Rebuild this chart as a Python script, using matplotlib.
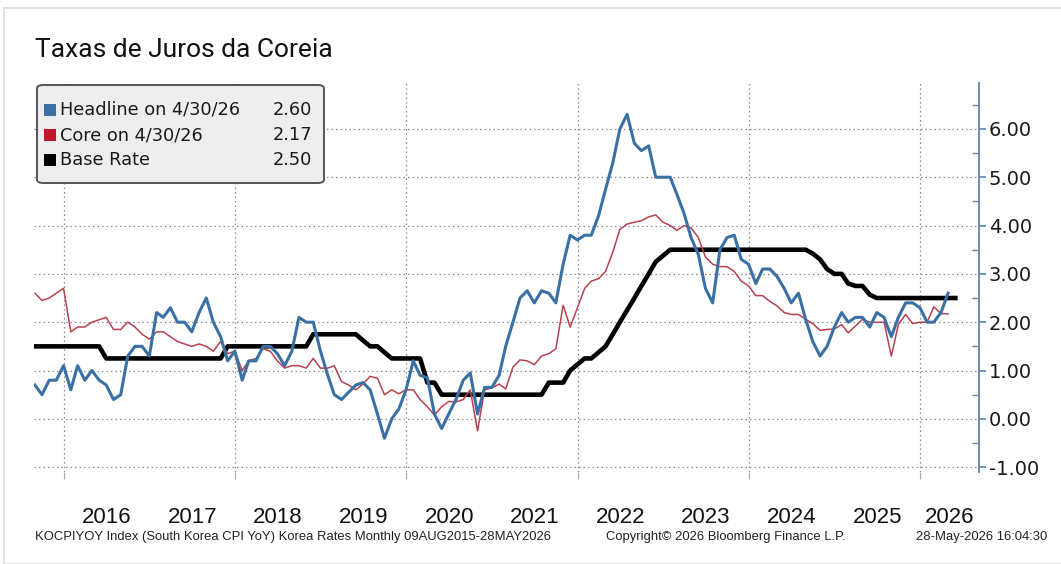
import matplotlib
matplotlib.use("Agg")
import matplotlib.pyplot as plt
from matplotlib import font_manager
from matplotlib.patches import FancyBboxPatch, Rectangle
from matplotlib.ticker import MultipleLocator, NullFormatter
import pandas as pd

# South Korea CPI YoY (%), monthly Aug 2015 - Apr 2026
headline = [
    0.7, 0.5, 0.8, 0.8, 1.1,
    0.6, 1.1, 0.8, 1.0, 0.8, 0.7, 0.4, 0.5, 1.3, 1.5, 1.5, 1.3,
    2.2, 2.1, 2.3, 2.0, 2.0, 1.8, 2.2, 2.5, 2.0, 1.7, 1.2, 1.4,
    0.8, 1.2, 1.2, 1.5, 1.5, 1.35, 1.1, 1.4, 2.1, 2.0, 2.0, 1.4,
    0.9, 0.5, 0.4, 0.55, 0.7, 0.75, 0.6, 0.1, -0.4, 0.0, 0.2, 0.6,
    1.2, 0.9, 0.85, 0.1, -0.2, 0.1, 0.4, 0.8, 0.95, 0.1, 0.65, 0.65,
    0.9, 1.5, 2.0, 2.5, 2.65, 2.4, 2.65, 2.6, 2.4, 3.2, 3.8, 3.7,
    3.8, 3.8, 4.2, 4.75, 5.3, 6.0, 6.3, 5.7, 5.55, 5.65, 5.0, 5.0,
    5.0, 4.65, 4.25, 3.75, 3.4, 2.7, 2.4, 3.5, 3.75, 3.8, 3.3, 3.2,
    2.8, 3.1, 3.1, 2.95, 2.7, 2.4, 2.6, 2.05, 1.6, 1.3, 1.5, 1.9,
    2.2, 2.0, 2.1, 2.1, 1.9, 2.2, 2.1, 1.7, 2.1, 2.4, 2.4, 2.3,
    2.0, 2.0, 2.2, 2.6,
]

core = [
    2.6, 2.45, 2.5, 2.6, 2.7,
    1.8, 1.9, 1.9, 2.0, 2.05, 2.1, 1.85, 1.85, 2.0, 1.9, 1.75, 1.65,
    1.8, 1.8, 1.7, 1.6, 1.55, 1.5, 1.55, 1.5, 1.4, 1.6, 1.35, 1.4,
    1.0, 1.2, 1.25, 1.45, 1.4, 1.2, 1.05, 1.1, 1.1, 1.05, 1.25, 1.05,
    1.05, 1.1, 0.77, 0.7, 0.6, 0.72, 0.88, 0.84, 0.5, 0.6, 0.52, 0.6,
    0.6, 0.4, 0.25, 0.08, 0.25, 0.36, 0.35, 0.4, 0.6, -0.25, 0.6, 0.64,
    0.72, 0.62, 1.07, 1.22, 1.2, 1.12, 1.3, 1.35, 1.45, 2.35, 1.9, 2.3,
    2.7, 2.85, 2.9, 3.05, 3.45, 3.92, 4.03, 4.07, 4.1, 4.18, 4.22, 4.07,
    4.0, 3.9, 4.0, 3.95, 3.75, 3.35, 3.2, 3.15, 3.15, 3.05, 2.85, 2.75,
    2.55, 2.55, 2.43, 2.34, 2.2, 2.16, 2.16, 2.06, 1.97, 1.83, 1.85, 1.86,
    1.95, 1.78, 1.92, 2.06, 2.0, 2.0, 2.0, 1.3, 1.95, 2.16, 1.97, 2.0,
    2.0, 2.32, 2.18, 2.17,
]

# Bank of Korea base rate (%), monthly Aug 2015 - May 2026
base_rate = [
    1.5, 1.5, 1.5, 1.5, 1.5,
    1.5, 1.5, 1.5, 1.5, 1.5, 1.25, 1.25, 1.25, 1.25, 1.25, 1.25, 1.25,
    1.25, 1.25, 1.25, 1.25, 1.25, 1.25, 1.25, 1.25, 1.25, 1.25, 1.5, 1.5,
    1.5, 1.5, 1.5, 1.5, 1.5, 1.5, 1.5, 1.5, 1.5, 1.5, 1.75, 1.75,
    1.75, 1.75, 1.75, 1.75, 1.75, 1.625, 1.5, 1.5, 1.375, 1.25, 1.25, 1.25,
    1.25, 1.25, 0.75, 0.75, 0.5, 0.5, 0.5, 0.5, 0.5, 0.5, 0.5, 0.5,
    0.5, 0.5, 0.5, 0.5, 0.5, 0.5, 0.5, 0.75, 0.75, 0.75, 1.0, 1.125,
    1.25, 1.25, 1.375, 1.5, 1.75, 2.0, 2.25, 2.5, 2.75, 3.0, 3.25, 3.375,
    3.5, 3.5, 3.5, 3.5, 3.5, 3.5, 3.5, 3.5, 3.5, 3.5, 3.5, 3.5,
    3.5, 3.5, 3.5, 3.5, 3.5, 3.5, 3.5, 3.5, 3.42, 3.3, 3.1, 3.0,
    3.0, 2.8, 2.75, 2.75, 2.57, 2.5, 2.5, 2.5, 2.5, 2.5, 2.5, 2.5,
    2.5, 2.5, 2.5, 2.5, 2.5,
]

year_labels = list(range(2016, 2027))
y_ticks = [-1, 0, 1, 2, 3, 4, 5, 6]

cpi_dates = pd.date_range("2015-08-01", periods=len(headline), freq="MS") + pd.offsets.MonthEnd(0)
rate_dates = pd.date_range("2015-08-01", periods=len(base_rate), freq="MS") + pd.offsets.MonthEnd(0)

BLUE = "#3a70a3"
RED = "#b8414f"
AXIS = "#5b86b0"

installed = {f.name for f in font_manager.fontManager.ttflist}
label_font = "Liberation Sans" if "Liberation Sans" in installed else "DejaVu Sans"
title_font = "Roboto" if "Roboto" in installed else "DejaVu Sans"

W, H = 1061, 564
fig = plt.figure(figsize=(W / 100, H / 100), dpi=100)
fig.patches.append(Rectangle((4 / W, 0), 1, 1 - 8 / H, transform=fig.transFigure,
                             fill=False, edgecolor="#e2e2e2", lw=1.5))

ax = fig.add_axes([34 / W, 1 - 472 / H, (979 - 34) / W, (472 - 83) / H])

ax.plot(rate_dates, base_rate, color="black", lw=3.3, zorder=3)
ax.plot(cpi_dates, core, color=RED, lw=1.1, zorder=4)
ax.plot(cpi_dates, headline, color=BLUE, lw=2.2, zorder=5)

x0, x1 = pd.Timestamp("2015-08-27"), pd.Timestamp("2026-09-09")
ax.set_xlim(x0, x1)
ax.set_ylim(-1.1, 6.95)

# right-hand value axis
for side in ["left", "top", "bottom"]:
    ax.spines[side].set_visible(False)
ax.spines["right"].set_color(AXIS)
ax.spines["right"].set_linewidth(1.3)
ax.yaxis.tick_right()
ax.set_yticks(y_ticks)
ax.set_yticklabels([f"{v:.2f}" for v in y_ticks])
ax.yaxis.set_minor_locator(MultipleLocator(0.5))
ax.tick_params(axis="y", which="major", direction="out", length=5, width=1.2,
               color=AXIS, labelcolor="#1a1a1a", labelsize=14, pad=2)
ax.tick_params(axis="y", which="minor", direction="in", length=5, width=1.0, color=AXIS)
for lab in ax.get_yticklabels():
    lab.set_family("DejaVu Sans")

# two-year gridlines and centred year labels
grid_dates = [pd.Timestamp(f"{y}-01-01") for y in range(2016, 2027, 2)]
ax.set_xticks(grid_dates)
ax.xaxis.set_major_formatter(NullFormatter())
mids = []
for y in year_labels:
    a = max(pd.Timestamp(f"{y}-01-01"), x0)
    b = min(pd.Timestamp(f"{y + 1}-01-01"), x1)
    mids.append(a + (b - a) / 2)
ax.set_xticks(mids, minor=True)
ax.set_xticklabels([str(y) for y in year_labels], minor=True)
ax.tick_params(axis="x", which="major", direction="out", length=5, width=0.8, color="#aaaaaa")
ax.tick_params(axis="x", which="minor", length=0, pad=25, labelsize=16, labelcolor="#111111")
for lab in ax.get_xticklabels(minor=True):
    lab.set_family(label_font)

ax.grid(axis="y", which="major", color="#8a8a8a", linestyle=(0, (1.2, 2.4)), lw=0.9)
ax.grid(axis="x", which="major", color="#8a8a8a", linestyle=(0, (1.2, 2.4)), lw=0.9)
ax.set_axisbelow(True)

# title
fig.text(35 / W, 1 - 50 / H, "Taxas de Juros da Coreia", family=title_font,
         fontsize=19, va="center", ha="left", color="#111111")

# legend panel
fig.patches.append(FancyBboxPatch((37 / W, 1 - 183 / H), 287 / W, 98 / H,
                                  boxstyle="round,pad=0,rounding_size=0.006",
                                  transform=fig.transFigure, facecolor="#eeeeee",
                                  edgecolor="#555555", lw=1.4, zorder=10))
last = cpi_dates[-1]
stamp = f"{last.month}/{last.day}/{last:%y}"
entries = [
    (BLUE, f"Headline on {stamp}", headline[-1]),
    ("#c0182b", f"Core on {stamp}", core[-1]),
    ("black", "Base Rate", base_rate[-1]),
]
for i, (color, label, value) in enumerate(entries):
    yc = 110 + 25 * i
    fig.patches.append(Rectangle((44 / W, 1 - (yc + 6) / H), 12 / W, 12 / H,
                                 transform=fig.transFigure, facecolor=color,
                                 edgecolor="none", zorder=11))
    fig.text(60 / W, 1 - yc / H, label, fontsize=12.8, va="center", ha="left",
             color="#1a1a1a", zorder=12)
    fig.text(312 / W, 1 - yc / H, f"{value:.2f}", fontsize=12.8, va="center",
             ha="right", color="#1a1a1a", zorder=12)

# source line
fig.text(35 / W, 1 - 537 / H,
         "KOCPIYOY Index (South Korea CPI YoY) Korea Rates Monthly 09AUG2015-28MAY2026",
         family=label_font, fontsize=9.4, va="center", ha="left", color="#222222")
fig.text(606 / W, 1 - 537 / H, "Copyright\u00a9 2026 Bloomberg Finance L.P.",
         family=label_font, fontsize=9.4, va="center", ha="left", color="#222222")
fig.text(1047 / W, 1 - 537 / H, "28-May-2026 16:04:30",
         family=label_font, fontsize=9.4, va="center", ha="right", color="#222222")

fig.savefig("out.png", dpi=100)
